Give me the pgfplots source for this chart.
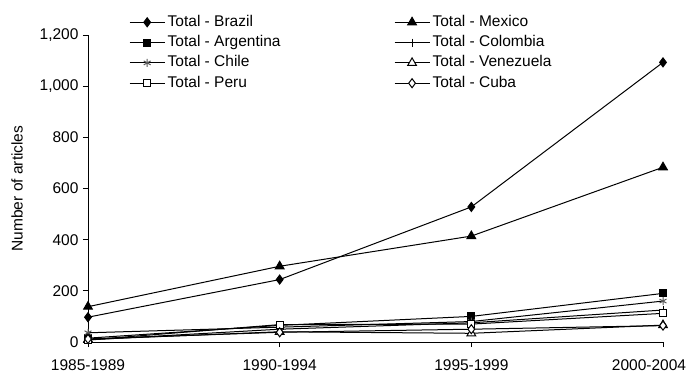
\documentclass[border=0pt]{standalone}
\usepackage{pgfplots}
\pgfplotsset{compat=1.18}
\usepackage{fontspec}
\setmainfont{Liberation Sans}
\begin{document}
\begin{tikzpicture}
\useasboundingbox (0,0) rectangle (689bp,374bp);
\begin{axis}[
  at={(88bp,32bp)}, anchor=south west,
  scale only axis, width=575bp, height=307bp,
  font=\fontsize{15.5bp}{18bp}\selectfont,
  xmin=0, xmax=3, ymin=0, ymax=1200,
  xtick={0,1,2,3},
  xticklabels={1985-1989,1990-1994,1995-1999,{2000-2004\rule{28bp}{0pt}}},
  ytick={0,200,400,600,800,1000,1200},
  /pgf/number format/assume math mode=true,
  /pgf/number format/1000 sep={,},
  axis x line*=bottom, axis y line*=left,
  tick align=outside, major tick length=5bp,
  tick style={black, line width=0.8bp},
  axis line style={line width=0.8bp},
  xticklabel style={yshift=-9bp},
  yticklabel style={xshift=-1bp},
  ylabel={Number of articles},
  ylabel style={at={(axis description cs:-0.1235,0.5)}, anchor=center},
  clip=false,
  every axis plot/.append style={black, line width=1bp, mark options={solid}},
  legend columns=2,
  legend cell align=left,
  legend image code/.code={\draw[mark repeat=2,mark phase=2,#1] plot coordinates {(0bp,0bp) (17.5bp,0bp) (35bp,0bp)};},
  legend style={draw=none, fill=none, inner sep=0pt,
    at={(axis description cs:0.0713,1.073)}, anchor=north west,
    nodes={inner sep=2.5bp, text height=11bp, text depth=3bp},
    row sep=1.3bp,
    /tikz/every even column/.append style={column sep=111bp}},
]
\addplot[mark=diamond*, mark size=4.5bp] coordinates {(0,97) (1,244) (2,528) (3,1093)};
\addlegendentry{Total - Brazil}
\addplot[mark=triangle*, mark size=5bp] coordinates {(0,138) (1,296) (2,414) (3,683)};
\addlegendentry{Total - Mexico}
\addplot[mark=square*, mark size=3.5bp] coordinates {(0,15) (1,65) (2,100) (3,190)};
\addlegendentry{Total - Argentina}
\addplot[mark=+, mark size=4bp] coordinates {(0,8) (1,50) (2,75) (3,125)};
\addlegendentry{Total - Colombia}
\addplot[mark=asterisk, mark size=4bp, mark options={gray!70!black}] coordinates {(0,36) (1,58) (2,80) (3,160)};
\addlegendentry{Total - Chile}
\addplot[mark=triangle*, mark size=5bp, mark options={fill=white}] coordinates {(0,10) (1,40) (2,34) (3,66)};
\addlegendentry{Total - Venezuela}
\addplot[mark=square*, mark size=3.5bp, mark options={fill=white}] coordinates {(0,8) (1,68) (2,70) (3,112)};
\addlegendentry{Total - Peru}
\addplot[mark=diamond*, mark size=4.5bp, mark options={fill=white}] coordinates {(0,12) (1,38) (2,50) (3,64)};
\addlegendentry{Total - Cuba}
\end{axis}
\end{tikzpicture}
\end{document}
